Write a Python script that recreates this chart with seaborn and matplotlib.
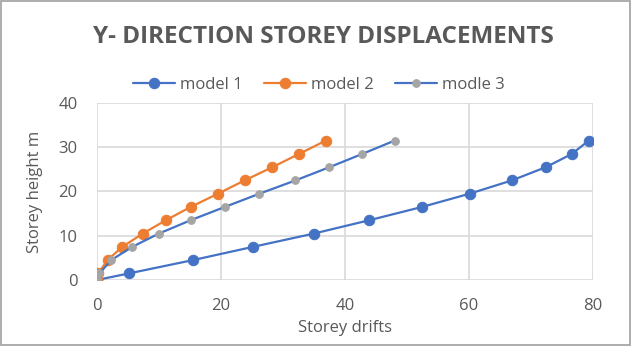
import matplotlib
matplotlib.use("Agg")
import matplotlib.pyplot as plt
import seaborn as sns
import pandas as pd

heights = [0, 1.5, 4.5, 7.5, 10.5, 13.5, 16.5, 19.5, 22.5, 25.5, 28.5, 31.5]
model1 = [0, 5.2, 15.5, 25.2, 35.0, 43.9, 52.4, 60.1, 66.9, 72.4, 76.6, 79.3]
model2 = [0, 0.2, 1.7, 4.1, 7.4, 11.1, 15.1, 19.5, 23.8, 28.3, 32.6, 36.9]
model3 = [0, 0.4, 2.3, 5.7, 10.0, 15.1, 20.6, 26.2, 32.0, 37.5, 42.8, 48.0]
names = ["model 1", "model 2", "modle 3"]
xticks = [0, 20, 40, 60, 80]
yticks = [0, 10, 20, 30, 40]

sns.set_theme(style="white")
plt.rcParams['font.family'] = ['Open Sans', 'DejaVu Sans']
txt = "#595959"

fig = plt.figure(figsize=(6.31, 3.46), dpi=100)
ax = fig.add_axes([0.1537, 0.1908, 0.7861, 0.5115])

series = [
    (model1, names[0], "#4472C4", "#4472C4", 7.5),
    (model2, names[1], "#ED7D31", "#ED7D31", 7.5),
    (model3, names[2], "#4472C4", "#A5A5A5", 5.5),
]
for xs, name, lc, mc, ms in series:
    df = pd.DataFrame({"x": xs, "y": heights})
    sns.lineplot(data=df, x="x", y="y", ax=ax, sort=False, color=lc, lw=1.6,
                 marker="o", markersize=ms, markerfacecolor=mc,
                 markeredgecolor=mc, label=name, zorder=3, legend=False)

ax.set_xlim(0, 80)
ax.set_ylim(0, 40)
ax.set_xticks(xticks)
ax.set_yticks(yticks)
ax.grid(True, color="#D9D9D9", lw=1.2)
for s in ax.spines.values():
    s.set_visible(False)
ax.tick_params(axis="x", colors=txt, labelsize=12, length=0, pad=13)
ax.tick_params(axis="y", colors=txt, labelsize=12, length=0, pad=14)
ax.set_xlabel("Storey drifts", color=txt, fontsize=12, labelpad=4)
ax.set_ylabel("Storey height m", color=txt, fontsize=12, labelpad=11)
for lab in ax.get_xticklabels() + ax.get_yticklabels():
    lab.set_color(txt)

handles, labels = ax.get_legend_handles_labels()
leg = fig.legend(handles, labels, loc="center", bbox_to_anchor=(0.505, 0.754),
                 ncol=3, frameon=False, fontsize=12, handlelength=2.5,
                 columnspacing=1.3, handletextpad=0.3, labelcolor=txt)

fig.text(0.513, 0.893, "Y- DIRECTION STOREY DISPLACEMENTS", ha="center",
         va="center", fontsize=17.5, fontweight="bold", color=txt)

border = plt.Rectangle((0.001, 0.002), 0.997, 0.995, transform=fig.transFigure,
                       fill=False, edgecolor="#A0A0A0", lw=1.2)
fig.patches.append(border)

fig.savefig("out.png", dpi=100)
